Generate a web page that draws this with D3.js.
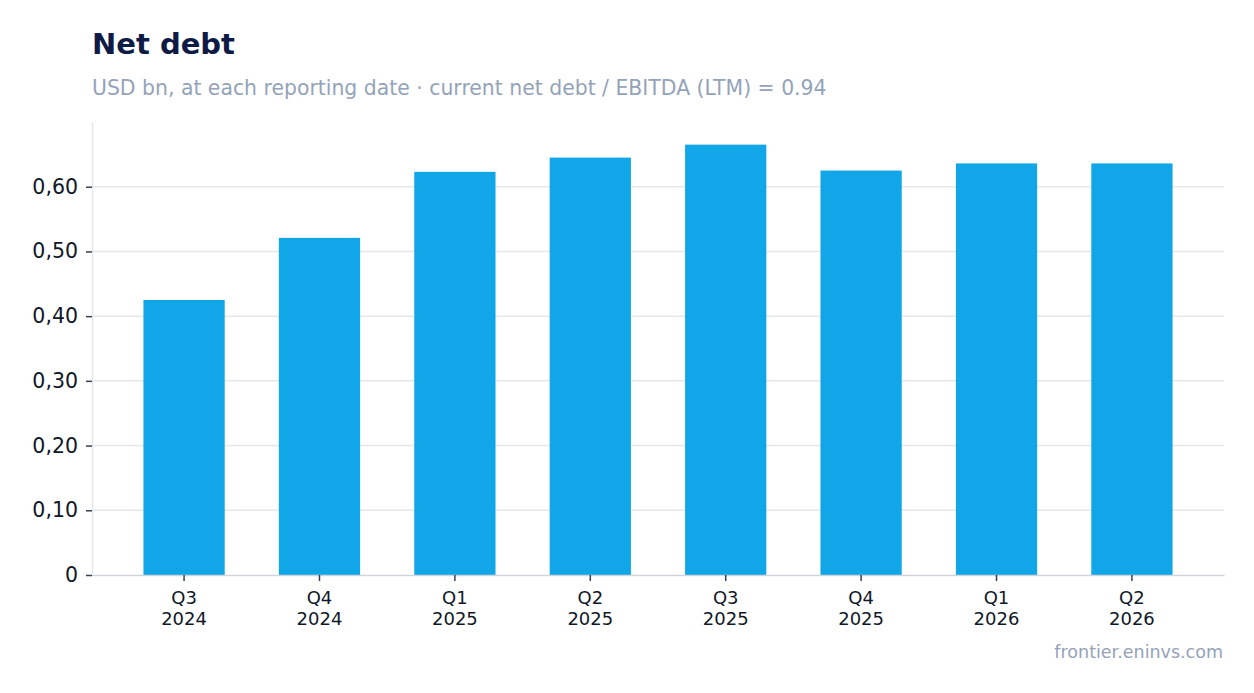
<!DOCTYPE html>
<html>
<head>
<meta charset="utf-8">
<script src="https://cdn.jsdelivr.net/npm/d3@7"></script>
<style>
  body { margin: 0; background: #ffffff; }
  svg text { font-family: "DejaVu Sans", sans-serif; }
</style>
</head>
<body>
<div id="chart"></div>
<script>
// quarters and net debt (USD bn)
var quarters = ["Q3", "Q4", "Q1", "Q2", "Q3", "Q4", "Q1", "Q2"];
var years = ["2024", "2024", "2025", "2025", "2025", "2025", "2026", "2026"];
var netDebt = [0.425, 0.521, 0.623, 0.645, 0.665, 0.625, 0.636, 0.636];
var yTicks = [0, 0.1, 0.2, 0.3, 0.4, 0.5, 0.6];

var width = 1254, height = 693;
var margin = { top: 122, right: 30, bottom: 118, left: 92 };

var svg = d3.select("#chart").append("svg")
  .attr("width", width)
  .attr("height", height);

var keys = quarters.map(function (q, i) { return i; });

var x = d3.scaleBand()
  .domain(keys)
  .range([margin.left, width - margin.right])
  .paddingInner(0.4)
  .paddingOuter(0.38);

var y = d3.scaleLinear()
  .domain([0, 0.7])
  .range([height - margin.bottom, margin.top]);

// title block
svg.append("text")
  .attr("x", 92).attr("y", 54)
  .attr("font-size", 29).attr("font-weight", "bold")
  .attr("fill", "#0d1b45")
  .text("Net debt");

svg.append("text")
  .attr("x", 92).attr("y", 95)
  .attr("font-size", 20.4)
  .attr("fill", "#94a3b8")
  .text("USD bn, at each reporting date · current net debt / EBITDA (LTM) = 0.94");

// gridlines
svg.append("g")
  .selectAll("line")
  .data(yTicks.filter(function (d) { return d > 0; }))
  .enter().append("line")
  .attr("x1", margin.left).attr("x2", width - margin.right)
  .attr("y1", function (d) { return y(d); })
  .attr("y2", function (d) { return y(d); })
  .attr("stroke", "#e5e7eb")
  .attr("stroke-width", 1.5);

// bars
svg.append("g")
  .selectAll("rect")
  .data(netDebt)
  .enter().append("rect")
  .attr("x", function (d, i) { return x(i); })
  .attr("width", x.bandwidth())
  .attr("y", function (d) { return y(d); })
  .attr("height", function (d) { return y(0) - y(d); })
  .attr("fill", "#10a6e8");

// y axis
var fmt = function (d) { return d === 0 ? "0" : d3.format(".2f")(d).replace(".", ","); };
var yAxis = svg.append("g")
  .attr("transform", "translate(" + margin.left + ",0)")
  .call(d3.axisLeft(y).tickValues(yTicks).tickFormat(fmt).tickSize(6).tickSizeOuter(0).tickPadding(8));
yAxis.select(".domain").attr("stroke", "#e5e7eb").attr("stroke-width", 1.5);
yAxis.selectAll(".tick line").attr("stroke", "#334155").attr("stroke-width", 1.5);
yAxis.selectAll(".tick text")
  .attr("font-size", 20.5)
  .attr("fill", "#111827")
  .style("font-family", "DejaVu Sans, sans-serif");

// x axis
var xAxis = svg.append("g")
  .attr("transform", "translate(0," + y(0) + ")")
  .call(d3.axisBottom(x).tickSize(6).tickSizeOuter(0).tickFormat(""));
xAxis.select(".domain").attr("stroke", "#d1d5db").attr("stroke-width", 1.5);
xAxis.selectAll(".tick line").attr("stroke", "#334155").attr("stroke-width", 1.5);

var xLabels = xAxis.selectAll(".tick").append("text")
  .attr("text-anchor", "middle")
  .attr("font-size", 18)
  .attr("fill", "#111827")
  .style("font-family", "DejaVu Sans, sans-serif");
xLabels.append("tspan").attr("x", 0).attr("y", 29)
  .text(function (d) { return quarters[d]; });
xLabels.append("tspan").attr("x", 0).attr("y", 50)
  .text(function (d) { return years[d]; });

// source
svg.append("text")
  .attr("x", width - 31).attr("y", 658)
  .attr("text-anchor", "end")
  .attr("font-size", 17.5)
  .attr("fill", "#94a3b8")
  .text("frontier.eninvs.com");
</script>
</body>
</html>
